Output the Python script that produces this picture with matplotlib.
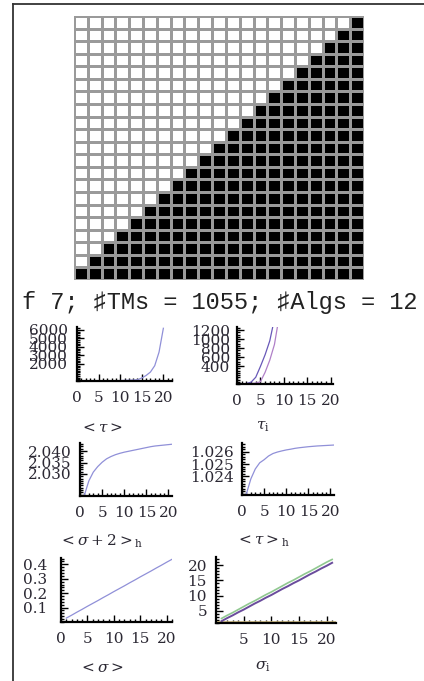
import matplotlib
matplotlib.use("Agg")
from matplotlib import pyplot as plt
from matplotlib.lines import Line2D
from matplotlib.ticker import MultipleLocator, FixedLocator
import numpy as np

W, H = 424, 681

# staircase: number of black cells in each row, top row first
black_per_row = [1, 2, 3, 4, 5, 6, 7, 8, 9, 10, 11, 12, 13, 14, 15, 16, 17,
                 18, 19, 20, 21]
n_cols = 21

title = "f 7; \u266fTMs = 1055; \u266fAlgs = 12"

# <tau>
tau_mean_x = list(range(1, 21))
tau_mean = [0, 0, 1, 2, 4, 8, 14, 22, 35, 50, 70, 95, 120, 150, 350, 650,
            1050, 1800, 3400, 6200]

# tau_i
tau_i_x = list(range(0, 13))
tau_i_a = [0, 0, 10, 40, 150, 390, 650, 960, 1450, 2000, 2700, 3500, 4400]
tau_i_b = [0, 0, 0, 10, 20, 50, 260, 530, 880, 1500, 2200, 3000, 3900]
tau_i_flat_x = [3, 20.5]
tau_i_flat = [8, 8]

n21 = list(range(1, 22))
# <sigma+2>_h
sig2_h = [2.0208, 2.0270, 2.0308, 2.0332, 2.0351, 2.0366, 2.0376, 2.0384,
          2.0390, 2.0395, 2.0399, 2.0403, 2.0407, 2.0411, 2.0415, 2.0419,
          2.0422, 2.0424, 2.0426, 2.0428, 2.0430]
# <tau>_h
tau_h = [1.0226, 1.0238, 1.0246, 1.0251, 1.02535, 1.02565, 1.02585, 1.02597,
         1.02606, 1.02614, 1.0262, 1.02627, 1.02632, 1.02636, 1.0264,
         1.02643, 1.02646, 1.02648, 1.0265, 1.02652, 1.02654]
# <sigma>
sig_mean = [0.027, 0.047, 0.068, 0.088, 0.109, 0.129, 0.149, 0.170, 0.190,
            0.211, 0.231, 0.251, 0.272, 0.292, 0.313, 0.333, 0.353, 0.374,
            0.394, 0.415, 0.435]
# sigma_i
sig_i_green = [2.5, 3.5, 4.4, 5.4, 6.4, 7.4, 8.3, 9.3, 10.3, 11.2, 12.2, 13.2,
               14.2, 15.1, 16.1, 17.1, 18.0, 19.0, 20.0, 21.0, 21.9]
sig_i_purple = [1.6, 2.6, 3.5, 4.5, 5.4, 6.4, 7.4, 8.3, 9.3, 10.2, 11.2, 12.2,
                13.1, 14.1, 15.0, 16.0, 17.0, 17.9, 18.9, 19.8, 20.8]
sig_i_flat_x = [0, 21.7]
sig_i_flat = [1.35, 1.35]

TXT = "#2b2833"
plt.rcParams['mathtext.fontset'] = 'dejavuserif'


def px_axes(fig, x0, x1, y0, y1):
    return fig.add_axes([x0 / W, 1 - y1 / H, (x1 - x0) / W, (y1 - y0) / H])


def style(ax, xmaj, xmin, ymaj, ymin, xlim, ylim, ylabels=None, ypad=6.5):
    for s in ['top', 'right']:
        ax.spines[s].set_visible(False)
    for s in ['left', 'bottom']:
        ax.spines[s].set_linewidth(1.6)
    ax.set_xlim(*xlim)
    ax.set_ylim(*ylim)
    ax.xaxis.set_major_locator(FixedLocator(xmaj))
    ax.xaxis.set_minor_locator(MultipleLocator(xmin))
    ax.yaxis.set_major_locator(FixedLocator(ymaj))
    ax.yaxis.set_minor_locator(MultipleLocator(ymin))
    if ylabels is not None:
        ax.set_yticklabels(ylabels)
    ax.tick_params(which='both', direction='in', color='k', width=1,
                   labelcolor=TXT, labelsize=11)
    ax.tick_params(axis='x', which='major', pad=7.5)
    ax.tick_params(axis='y', which='major', pad=ypad)
    ax.tick_params(which='major', length=5)
    ax.tick_params(which='minor', length=2.5)
    for lab in ax.get_xticklabels() + ax.get_yticklabels():
        lab.set_family('DejaVu Serif')
    ax.patch.set_alpha(0)


def main():
    fig = plt.figure(figsize=(W / 100, H / 100), dpi=100)

    # frame
    fig.add_artist(Line2D([13 / W, 13 / W], [0, 1 - 4 / H], color='#333333',
                          lw=1.3, transform=fig.transFigure))
    fig.add_artist(Line2D([13 / W, 1], [1 - 4 / H, 1 - 4 / H], color='#333333',
                          lw=1.3, transform=fig.transFigure))

    # grid
    grid = np.zeros((len(black_per_row), n_cols))
    for r, k in enumerate(black_per_row):
        grid[r, n_cols - k:] = 1
    gax = px_axes(fig, 74, 364, 16, 280)
    gax.pcolormesh(grid, cmap='binary', vmin=0, vmax=1,
                   edgecolors='#9a9a9a', linewidth=0.9)
    gax.set_xlim(0, n_cols)
    gax.set_ylim(len(black_per_row), 0)
    gax.set_axis_off()

    fig.text(22 / W, 1 - 303 / H, title, ha='left', va='center',
             fontsize=17, family=['Liberation Mono', 'DejaVu Sans Mono'],
             color='#222222')

    # row 1
    ax1 = px_axes(fig, 77, 172, 327, 381)
    ax1.plot(tau_mean_x, tau_mean, color='#9090d8', lw=0.9)
    style(ax1, [0, 5, 10, 15, 20], 1, [2000, 3000, 4000, 5000, 6000], 200,
          (0, 22), (0, 6350))

    ax2 = px_axes(fig, 237, 333, 327, 384)
    ax2.plot(tau_i_flat_x, tau_i_flat, color='#b0b070', lw=0.9)
    ax2.plot(tau_i_x, tau_i_b, color='#b080c8', lw=0.9)
    ax2.plot(tau_i_x, tau_i_a, color='#6858b8', lw=0.9)
    style(ax2, [0, 5, 10, 15, 20], 1, [400, 600, 800, 1000, 1200], 50,
          (0, 20.5), (0, 1267), ypad=5)

    # row 2
    ax3 = px_axes(fig, 80, 172, 443, 496)
    ax3.plot(n21, sig2_h, color='#9090d8', lw=0.9)
    style(ax3, [0, 5, 10, 15, 20], 1, [2.030, 2.035, 2.040], 0.001,
          (0, 20.8), (2.0204, 2.0435), ylabels=['2.030', '2.035', '2.040'],
          ypad=6)

    ax4 = px_axes(fig, 242, 334, 443, 495)
    ax4.plot(n21, tau_h, color='#9090d8', lw=0.9)
    style(ax4, [0, 5, 10, 15, 20], 1, [1.024, 1.025, 1.026], 0.0002,
          (0, 20.8), (1.0225, 1.0267), ylabels=['1.024', '1.025', '1.026'],
          ypad=6)

    # row 3
    ax5 = px_axes(fig, 61, 172, 558, 622)
    ax5.plot(n21, sig_mean, color='#9090d8', lw=0.9)
    style(ax5, [0, 5, 10, 15, 20], 1, [0.1, 0.2, 0.3, 0.4], 0.02,
          (0, 21), (0, 0.444), ypad=10)

    ax6 = px_axes(fig, 216, 336, 557, 623)
    ax6.plot(sig_i_flat_x, sig_i_flat, color='#c8b478', lw=1.2)
    ax6.plot(n21, sig_i_green, color='#90c890', lw=1.2)
    ax6.plot(n21, sig_i_purple, color='#6a4c9c', lw=1.4)
    style(ax6, [5, 10, 15, 20], 1, [5, 10, 15, 20], 1,
          (0, 21.7), (1, 22.7))

    # panel labels
    labs = [(102, 427, r'$<\tau>$'), (263, 427, r'$\tau_{\rm i}$'),
            (101, 541, r'$<\sigma+2>_{\rm h}$'), (263, 541, r'$<\tau>_{\rm h}$'),
            (102, 667, r'$<\sigma>$'), (263, 667, r'$\sigma_{\rm i}$')]
    for x, y, s in labs:
        fig.text(x / W, 1 - y / H, s, ha='center', va='center', fontsize=11,
                 color=TXT)

    fig.savefig('out.png', dpi=100)


if __name__ == "__main__":
    main()
